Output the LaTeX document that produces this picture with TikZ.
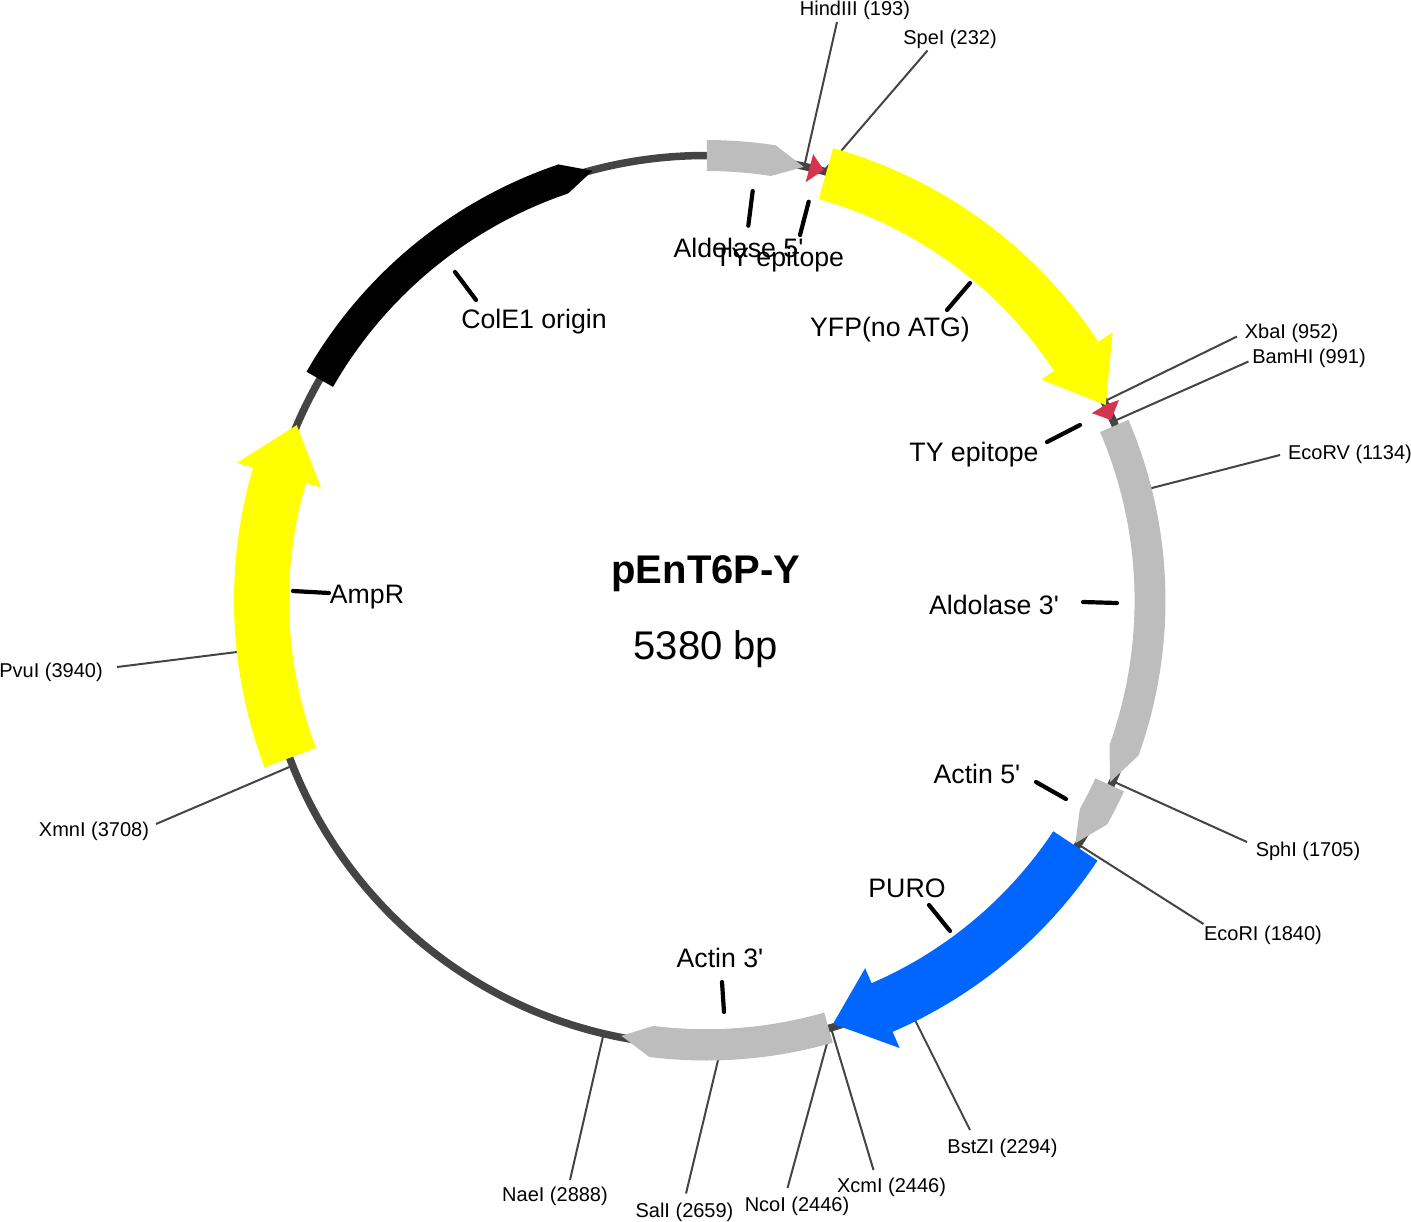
\documentclass[tikz,border=0pt]{standalone}
\usepackage{fontspec}
\setmainfont{Liberation Sans}
\newfontfamily\straightfont{Liberation Sans}
\definecolor{bb}{HTML}{444444}
\definecolor{geneGrey}{HTML}{BDBDBD}
\definecolor{geneYellow}{HTML}{FFFF00}
\definecolor{geneBlue}{HTML}{0066FF}
\definecolor{geneRed}{HTML}{D6334F}
\newcommand{\genearrow}[9]{% colour, start, base, tip, rin, rout, rhead in, rhead out, tip radius
  \fill[#1] plot[domain=#2:#3,samples=40] (\x:#6) -- (#3:#8) -- (#4:#9) -- (#3:#7) -- plot[domain=#3:#2,samples=40] (\x:#5) -- cycle;}
\tikzset{
  x=1pt,y=-1pt,
  backbone/.style={draw=bb,line width=7.5pt},
  leader/.style={draw=bb,line width=2pt},
  tick/.style={draw=black,line width=4.2pt,line cap=round},
  sitelabel/.style={font=\fontsize{20}{20}\selectfont,inner sep=0pt,text height=14.5pt,text depth=4pt},
  genelabel/.style={font=\fontsize{26.7}{27}\selectfont\straightfont,inner sep=0pt,text height=19pt,text depth=5.5pt},
}
\begin{document}
\begin{tikzpicture}
\useasboundingbox (0,0) rectangle (1411,1221);
\begin{scope}[shift={(706,600.5)}]
\draw[backbone] (0,0) circle[radius=445];
\end{scope}
% restriction sites
\coordinate (sHind) at (805,163); \coordinate (eHind) at (837,22);
\coordinate (sSpe) at (823,172); \coordinate (eSpe) at (927.5,50.5);
\coordinate (sXba) at (1103,402); \coordinate (eXba) at (1237,336.5);
\coordinate (sBam) at (1112,422); \coordinate (eBam) at (1248.5,361.5);
\coordinate (sEcoV) at (1148,489); \coordinate (eEcoV) at (1280,455);
\coordinate (sSph) at (1110,780); \coordinate (eSph) at (1247,842);
\coordinate (sEcoI) at (1076,843); \coordinate (eEcoI) at (1203.5,924);
\coordinate (sBst) at (913,1016); \coordinate (eBst) at (970,1130);
\coordinate (sXcm) at (831,1028); \coordinate (eXcm) at (873.5,1170);
\coordinate (sNco) at (829,1036); \coordinate (eNco) at (787.5,1188);
\coordinate (sSal) at (720,1052); \coordinate (eSal) at (686,1193.5);
\coordinate (sNae) at (604,1032); \coordinate (eNae) at (570,1180);
\coordinate (sXmn) at (294,765); \coordinate (eXmn) at (156,824);
\coordinate (sPvu) at (245,651); \coordinate (ePvu) at (117,667);
\draw[leader] (sHind) -- (eHind);
\draw[leader] (sSpe) -- (eSpe);
\draw[leader] (sXba) -- (eXba);
\draw[leader] (sBam) -- (eBam);
\draw[leader] (sEcoV) -- (eEcoV);
\draw[leader] (sSph) -- (eSph);
\draw[leader] (sEcoI) -- (eEcoI);
\draw[leader] (sBst) -- (eBst);
\draw[leader] (sXcm) -- (eXcm);
\draw[leader] (sNco) -- (eNco);
\draw[leader] (sSal) -- (eSal);
\draw[leader] (sNae) -- (eNae);
\draw[leader] (sXmn) -- (eXmn);
\draw[leader] (sPvu) -- (ePvu);
% features
\begin{scope}[shift={(706,600.5)}]
\genearrow{geneGrey}{-89.9}{-81.3}{-77.3}{429.5}{460.5}{429.5}{460.5}{444.5}
\genearrow{geneYellow}{-74.3}{-33.4}{-26.05}{417}{470}{401.5}{487}{445}
\genearrow{geneGrey}{-23.15}{19.7}{24.2}{428.6}{459.5}{428.6}{459.5}{443}
\genearrow{geneGrey}{24.55}{29.15}{33.3}{428}{459.5}{428}{459.5}{442}
\genearrow{geneBlue}{33.6}{66.6}{73.3}{417}{470}{400.7}{487.7}{442}
\genearrow{geneGrey}{74}{97.07}{101}{428.7}{460}{428.7}{460}{443.5}
\genearrow{geneYellow}{159.3}{196.35}{203.2}{417}{472}{401.3}{489}{445.3}
\genearrow{black}{209.8}{251.3}{255.2}{429.8}{460.4}{429.8}{460.4}{444.5}
\fill[geneRed] (-76.5:459) -- (-74.7:446.4) -- (-76.6:430) -- cycle;
\fill[geneRed] (-25.9:459) -- (-24:443.4) -- (-25.9:429) -- (-26.1:445) -- cycle;
\end{scope}
% labels of the sites
\node[sitelabel] (lHind) at (855,10) {HindIII (193)};
\node[sitelabel] (lSpe) at (950,39) {SpeI (232)};
\node[sitelabel] (lXba) at (1291.5,333) {XbaI (952)};
\node[sitelabel] (lBam) at (1309,358) {BamHI (991)};
\node[sitelabel] (lEcoV) at (1350,454) {EcoRV (1134)};
\node[sitelabel] (lSph) at (1308,851) {SphI (1705)};
\node[sitelabel] (lEcoI) at (1263,935) {EcoRI (1840)};
\node[sitelabel] (lBst) at (1002.5,1148) {BstZI (2294)};
\node[sitelabel] (lXcm) at (891.5,1187) {XcmI (2446)};
\node[sitelabel] (lNco) at (797,1206) {NcoI (2446)};
\node[sitelabel] (lSal) at (684.5,1212) {SalI (2659)};
\node[sitelabel] (lNae) at (555,1196) {NaeI (2888)};
\node[sitelabel] (lXmn) at (94,831) {XmnI (3708)};
\node[sitelabel] (lPvu) at (51,672) {PvuI (3940)};
% labels of the features, with their ticks
\coordinate (aAld) at (752.7,191); \coordinate (bAld) at (748.3,225.7);
\coordinate (aTYa) at (808.7,201.7); \coordinate (bTYa) at (800,235);
\coordinate (aYFP) at (970,283); \coordinate (bYFP) at (947,310);
\coordinate (aTYb) at (1080,425); \coordinate (bTYb) at (1047,442);
\coordinate (aAldc) at (1117,603); \coordinate (bAldc) at (1083,602);
\coordinate (aAct) at (1036,782); \coordinate (bAct) at (1066,799);
\coordinate (aPuro) at (929,905); \coordinate (bPuro) at (950,931);
\coordinate (aActc) at (722,982); \coordinate (bActc) at (724,1012);
\coordinate (aAmp) at (293,591); \coordinate (bAmp) at (329,593);
\coordinate (aCol) at (455,272); \coordinate (bCol) at (476,300);
\draw[tick] (aAld) -- (bAld);
\draw[tick] (aTYa) -- (bTYa);
\draw[tick] (aYFP) -- (bYFP);
\draw[tick] (aTYb) -- (bTYb);
\draw[tick] (aAldc) -- (bAldc);
\draw[tick] (aAct) -- (bAct);
\draw[tick] (aPuro) -- (bPuro);
\draw[tick] (aActc) -- (bActc);
\draw[tick] (aAmp) -- (bAmp);
\draw[tick] (aCol) -- (bCol);
\node[genelabel] (gAld) at (738.5,250.5) {Aldolase 5'};
\node[genelabel] (gTYa) at (779.5,259.5) {TY epitope};
\node[genelabel] (gYFP) at (890,329.5) {YFP(no ATG)};
\node[genelabel] (gTYb) at (974,454.5) {TY epitope};
\node[genelabel] (gAldc) at (994,607.5) {Aldolase 3'};
\node[genelabel] (gAct) at (977,776.5) {Actin 5'};
\node[genelabel] (gPuro) at (907,890.5) {PURO};
\node[genelabel] (gActc) at (720,960.5) {Actin 3'};
\node[genelabel] (gAmp) at (367,596.5) {AmpR};
\node[genelabel] (gCol) at (534,321.5) {ColE1 origin};
\node[font=\fontsize{40}{40}\selectfont\bfseries,inner sep=0pt] (title) at (706,574) {pEnT6P-Y};
\node[font=\fontsize{40}{40}\selectfont,inner sep=0pt] (size) at (706,649) {5380 bp};
\end{tikzpicture}
\end{document}
